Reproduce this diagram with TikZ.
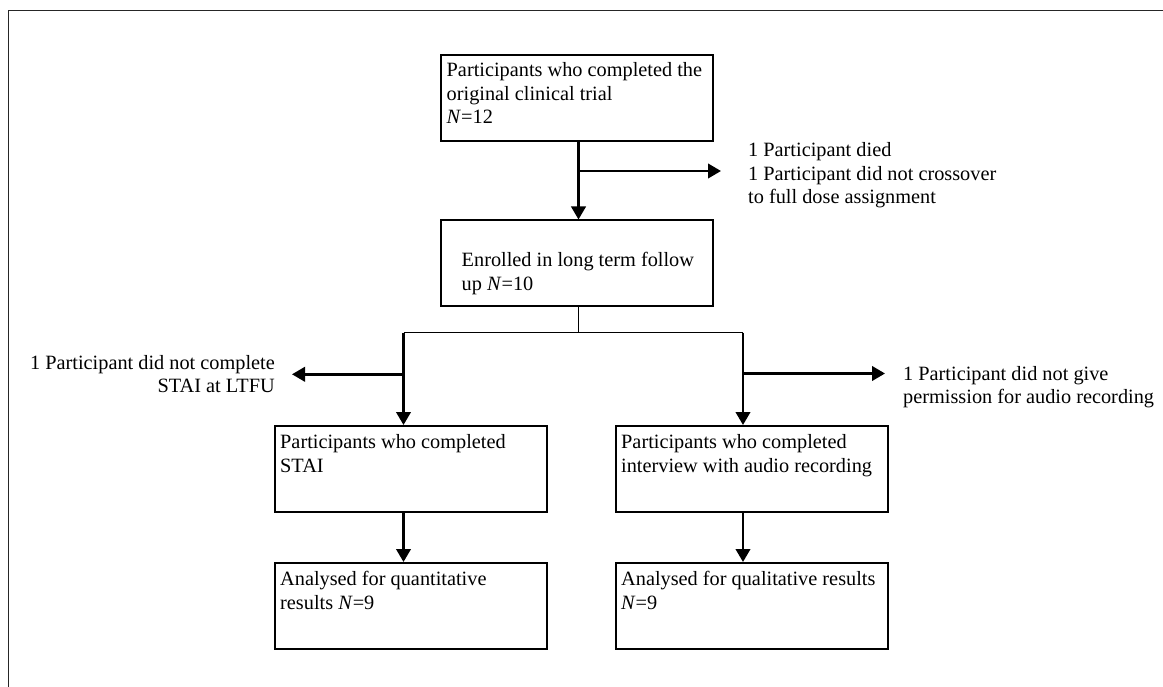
\documentclass[tikz,border=0pt]{standalone}
\usepackage{fontspec}
\setmainfont{Liberation Serif}
\usetikzlibrary{arrows.meta,calc}
\begin{document}
\begin{tikzpicture}[x=1pt,y=-1pt,
  font=\fontsize{20.3}{23.5}\selectfont,
  boxnode/.style={draw, line width=2pt, minimum width=272pt, minimum height=86pt, inner sep=0pt},
  txt/.style={inner sep=0pt, anchor=north west, align=left},
  arr/.style={line width=2.4pt, -{Triangle[length=13pt,width=14.5pt]}},
  thinline/.style={line width=1.4pt}]
\useasboundingbox (0,0) rectangle (1163,687);
\draw[line width=1.8pt, black!85] (8.5,687) -- (8.5,10.5) -- (1163,10.5);

% boxes
\node[boxnode] (b1) at (577,98) {};
\node[boxnode] (b2) at (577,263.5) {};
\node[boxnode] (b3) at (411,469) {};
\node[boxnode] (b4) at (752,469) {};
\node[boxnode] (b5) at (411,606) {};
\node[boxnode] (b6) at (752,606) {};

% box texts
\node[txt] (t1) at (446.5,60.3) {\strut Participants who completed the\\original clinical trial\\\textit{N}=12};
\node[txt] (t2) at (461.5,250.3) {\strut Enrolled in long term follow\\up \textit{N}=10};
\node[txt] (t3) at (280,431.9) {\strut Participants who completed\\STAI};
\node[txt] (t4) at (621,431.9) {\strut Participants who completed\\interview with audio recording};
\node[txt] (t5) at (280,569.3) {\strut Analysed for quantitative\\results \textit{N}=9};
\node[txt] (t6) at (621,569.3) {\strut Analysed for qualitative results\\\textit{N}=9};

% side labels
\node[txt] (lt) at (748,140.3) {\strut 1 Participant died\\1 Participant did not crossover\\to full dose assignment};
\node[inner sep=0pt, anchor=north east, align=right] (ll) at (275,352.6) {\strut 1 Participant did not complete\\STAI at LTFU};
\node[txt] (lr) at (903,363.6) {\strut 1 Participant did not give\\permission for audio recording};

% coordinates
\coordinate (j1) at (578.5,171);
\coordinate (e1) at (721,171);
\coordinate (jm) at (578.5,332.7);
\coordinate (sl) at (403.5,332.7);
\coordinate (sr) at (743,332.7);
\coordinate (jl) at (403.5,374.3);
\coordinate (el) at (292,374.3);
\coordinate (jr) at (743,373.5);
\coordinate (er) at (885,373.5);

% connectors
\draw[arr] (b1.south -| j1) -- (b2.north -| j1);
\draw[arr] (j1) -- (e1);
\draw[thinline] (b2.south -| jm) -- (jm);
\draw[thinline] (sl) -- (sr);
\draw[arr] (sl) -- (sl |- b3.north);
\draw[arr] (sr) -- (sr |- b4.north);
\draw[arr] (jl) -- (el);
\draw[arr] (jr) -- (er);
\draw[arr] (b3.south -| sl) -- (b5.north -| sl);
\draw[arr] (b4.south -| sr) -- (b6.north -| sr);
\end{tikzpicture}
\end{document}
